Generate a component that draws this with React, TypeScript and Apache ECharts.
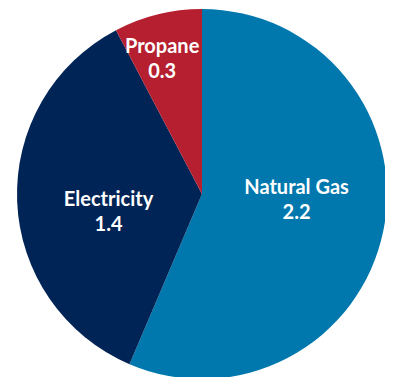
import React, { useEffect, useRef } from "react";
import * as echarts from "echarts";

// Heating fuel consumption by source
const categories = ["Natural Gas", "Electricity", "Propane"];
const values = [2.2, 1.4, 0.3];
const colors = ["#0078AE", "#002456", "#B51F2F"];
// nudges for each slice label so it sits where there is room
const labelOffsets = [
  [1, -15],
  [2, 13],
  [-17, -44],
];

export default function App() {
  const ref = useRef<HTMLDivElement>(null);

  useEffect(() => {
    if (!ref.current) return;
    const chart = echarts.init(ref.current, null, { renderer: "svg" });
    chart.setOption({
      animation: false,
      series: [
        {
          type: "pie",
          center: [194, 186],
          radius: 185,
          startAngle: 90,
          clockwise: true,
          silent: true,
          itemStyle: { borderWidth: 0 },
          label: {
            show: true,
            position: "inner",
            color: "#ffffff",
            fontFamily: "Lato",
            fontWeight: "bold",
            fontSize: 20,
            lineHeight: 25,
            formatter: (p: any) => `${p.name}\n${p.value.toFixed(1)}`,
          },
          labelLine: { show: false },
          data: categories.map((name, i) => ({
            name,
            value: values[i],
            itemStyle: { color: colors[i] },
            label: { offset: labelOffsets[i] },
          })),
        },
      ],
    });
    return () => chart.dispose();
  }, []);

  return <div ref={ref} style={{ width: 385, height: 369 }} />;
}
